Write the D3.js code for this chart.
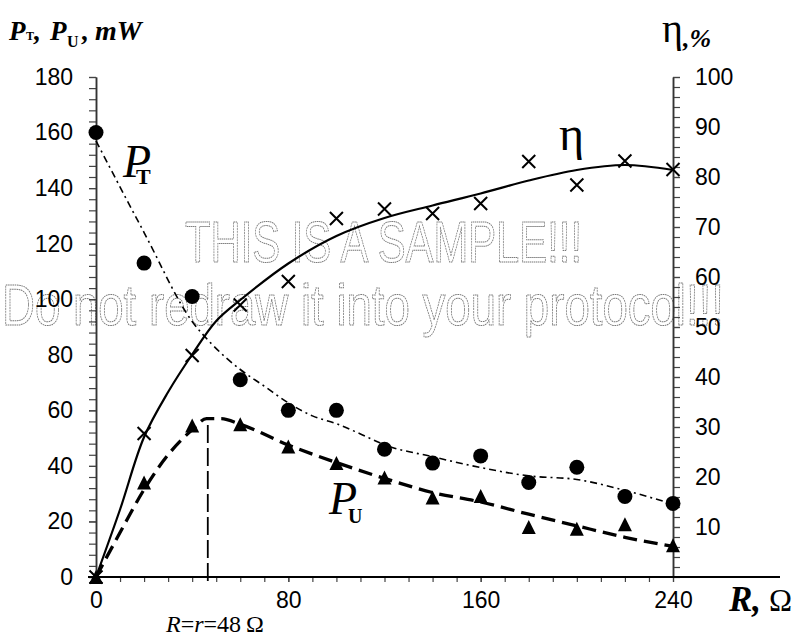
<!DOCTYPE html>
<html>
<head>
<meta charset="utf-8">
<script src="https://cdn.jsdelivr.net/npm/d3@7"></script>
<style>
  body { margin: 0; background: #fff; }
  svg { display: block; }
  .serif { font-family: "Liberation Serif", "Times New Roman", serif; }
</style>
</head>
<body>
<div id="chart"></div>
<script>
// measured points (R in ohm)
const resistance = [0, 20, 40, 60, 80, 100, 120, 140, 160, 180, 200, 220, 240];
const powerTotal = [160, 113, 101, 71, 60, 60, 46, 41, 43.6, 34, 39.5, 29, 26.5];
const powerUseful = [0, 34, 54.5, 55, 47, 41, 35.8, 28.6, 29.2, 18, 17.4, 19, 11.4];
const efficiency = [0, 28.7, 44.3, 54.4, 59.1, 71.7, 73.6, 72.7, 74.7, 83.1, 78.4, 83.2, 81.5];

// fitted curves
const fitTotalR = [0, 20, 40, 48, 60, 70, 80, 90, 100, 110, 120, 140, 160, 180, 200, 220, 240];
const fitTotal = [157, 124, 92, 84, 74.7, 68.7, 62.7, 58, 55.2, 51.5, 47.6, 43.3, 39.4, 36.4, 35.1, 31.2, 26.2];
const fitUsefulR = [0, 10, 20, 30, 40, 46, 52, 60, 80, 100, 120, 140, 160, 180, 200, 220, 240];
const fitUseful = [0, 16, 31.5, 44, 53, 57, 57, 55, 47.5, 41.2, 35.5, 30.4, 27, 22.6, 18.4, 14.3, 11];
const fitEtaR = [0, 10, 20, 30, 40, 50, 60, 80, 100, 120, 140, 160, 180, 200, 220, 240];
const fitEta = [0, 13.5, 28, 37, 44.5, 51.2, 55.4, 62.7, 68.2, 71.8, 74.3, 76.7, 79.3, 81.4, 82.4, 81.4];

const matchedR = 46.5;
const powerTicks = d3.range(0, 181, 20);
const etaTicks = d3.range(10, 101, 10);
const rTicks = [0, 80, 160, 240];

class PowerChart {
    constructor(){
        this.size = { width: 801, height: 636 };
        this.x = d3.scaleLinear().domain([0, 240]).range([96, 673]);
        this.yP = d3.scaleLinear().domain([0, 180]).range([577, 77]);
        this.yEta = d3.scaleLinear().domain([0, 100]).range([577, 77]);

        this.svg = d3.select('#chart').append('svg')
            .attr('width', this.size.width)
            .attr('height', this.size.height)
            .style('background', '#fff');

        this.drawWatermark();
        this.drawAxes();
        this.drawCurves();
        this.drawMarkers();
        this.drawText();
    }

    drawWatermark(){
        let g = this.svg.append('g')
            .attr('fill', 'none')
            .attr('stroke', '#7a7a7a')
            .attr('stroke-width', 1)
            .attr('stroke-dasharray', '2,0.8')
            .style('font-family', '"Liberation Sans", Arial, sans-serif')
            .style('font-size', '58px');
        g.append('text').attr('x', 185).attr('y', 262)
            .attr('textLength', 397).attr('lengthAdjust', 'spacingAndGlyphs')
            .text('THIS IS A SAMPLE!!!');
        g.append('text').attr('x', 2).attr('y', 325)
            .attr('textLength', 722).attr('lengthAdjust', 'spacingAndGlyphs')
            .text('Do not redraw it into your protocol!!!');
    }

    styleAxis(g){
        g.selectAll('.tick line').attr('stroke', '#444').attr('stroke-width', 1.2);
        g.selectAll('.tick text')
            .style('font-family', '"Liberation Sans", Arial, sans-serif')
            .style('font-size', '23px')
            .attr('fill', '#000');
        g.select('.domain').attr('stroke', '#333').attr('stroke-width', 1.5);
    }

    drawAxes(){
        let x = this.x, yP = this.yP, yEta = this.yEta;

        // left
        this.svg.append('g').attr('transform', 'translate(96,0)')
            .call(d3.axisLeft(yP).tickValues(d3.range(0, 181, 4)).tickSize(7).tickSizeOuter(0).tickFormat(''))
            .call(g => this.styleAxis(g));
        this.svg.append('g').attr('transform', 'translate(96,0)')
            .call(d3.axisLeft(yP).tickValues(powerTicks).tickSize(7).tickSizeOuter(0).tickPadding(16))
            .call(g => this.styleAxis(g));

        // right
        this.svg.append('g').attr('transform', 'translate(673,0)')
            .call(d3.axisRight(yEta).tickValues(d3.range(0, 101, 2)).tickSize(7).tickSizeOuter(0).tickFormat(''))
            .call(g => this.styleAxis(g));
        this.svg.append('g').attr('transform', 'translate(673,0)')
            .call(d3.axisRight(yEta).tickValues(etaTicks).tickSize(7).tickSizeOuter(0).tickPadding(15))
            .call(g => this.styleAxis(g));

        // bottom
        let bottom = this.svg.append('g').attr('transform', 'translate(0,577)');
        bottom.append('g')
            .call(d3.axisBottom(x).tickValues(d3.range(0, 241, 10)).tickSize(5).tickSizeOuter(0).tickFormat(''))
            .call(g => this.styleAxis(g))
            .call(g => g.select('.domain').remove());
        bottom.append('g')
            .call(d3.axisBottom(x).tickValues(rTicks).tickSize(5).tickSizeOuter(0).tickPadding(10))
            .call(g => this.styleAxis(g))
            .call(g => g.select('.domain').remove());
        bottom.append('line')
            .attr('x1', x(0) - 8).attr('x2', 780)
            .attr('stroke', '#000').attr('stroke-width', 2);
    }

    drawCurves(){
        let x = this.x, yP = this.yP, yEta = this.yEta;

        let lineP = d3.line().x(d => x(d[0])).y(d => yP(d[1])).curve(d3.curveMonotoneX);
        let lineEta = d3.line().x(d => x(d[0])).y(d => yEta(d[1])).curve(d3.curveCatmullRom.alpha(0.5));

        this.svg.append('path')
            .datum(d3.zip(fitTotalR, fitTotal))
            .attr('d', lineP)
            .attr('fill', 'none').attr('stroke', '#000')
            .attr('stroke-width', 1.6)
            .attr('stroke-dasharray', '7,4,2,4');

        this.svg.append('path')
            .datum(d3.zip(fitUsefulR, fitUseful))
            .attr('d', lineP)
            .attr('fill', 'none').attr('stroke', '#000')
            .attr('stroke-width', 3.3)
            .attr('stroke-dasharray', '14,7');

        this.svg.append('path')
            .datum(d3.zip(fitEtaR, fitEta))
            .attr('d', lineEta)
            .attr('fill', 'none').attr('stroke', '#000')
            .attr('stroke-width', 2.2);

        // R = r marker
        this.svg.append('line')
            .attr('x1', x(matchedR)).attr('x2', x(matchedR))
            .attr('y1', yP(0) + 4).attr('y2', yP(d3.max(fitUseful)))
            .attr('stroke', '#000').attr('stroke-width', 1.8)
            .attr('stroke-dasharray', '18,5');
    }

    drawMarkers(){
        let x = this.x, yP = this.yP, yEta = this.yEta;

        this.svg.append('g').selectAll('circle')
            .data(d3.zip(resistance, powerTotal))
            .join('circle')
            .attr('cx', d => x(d[0]))
            .attr('cy', d => yP(d[1]))
            .attr('r', 7.5)
            .attr('fill', '#000');

        // triangles a bit taller than equilateral
        let tri = { draw(ctx, size){ let h = Math.sqrt(size) / 2; ctx.moveTo(0, -h); ctx.lineTo(h, h); ctx.lineTo(-h, h); ctx.closePath(); } };
        this.svg.append('g').selectAll('path')
            .data(d3.zip(resistance, powerUseful))
            .join('path')
            .attr('transform', d => `translate(${x(d[0])},${yP(d[1])})`)
            .attr('d', d3.symbol(tri, 196))
            .attr('fill', '#000');

        this.svg.append('g').selectAll('path')
            .data(d3.zip(resistance, efficiency))
            .join('path')
            .attr('d', d => {
                let cx = x(d[0]), cy = yEta(d[1]), s = 6.5;
                return `M${cx - s},${cy - s}L${cx + s},${cy + s}M${cx + s},${cy - s}L${cx - s},${cy + s}`;
            })
            .attr('stroke', '#000').attr('stroke-width', 2).attr('fill', 'none');
    }

    drawText(){
        let svg = this.svg;

        let t1 = svg.append('text').attr('class', 'serif').attr('y', 40)
            .style('font-size', '27px').style('font-weight', 'bold');
        t1.append('tspan').attr('x', 9).style('font-style', 'italic').text('P');
        t1.append('tspan').attr('x', 26).style('font-size', '12px').text('T');
        t1.append('tspan').attr('x', 33).text(',');
        t1.append('tspan').attr('x', 50).style('font-style', 'italic').text('P');
        t1.append('tspan').attr('x', 67).attr('y', 47).style('font-size', '16px').text('U');
        t1.append('tspan').attr('x', 81).attr('y', 40).text(',');
        t1.append('tspan').attr('x', 95).style('font-style', 'italic').style('font-size', '28px').text('mW');

        let t2 = svg.append('text').attr('class', 'serif').attr('y', 42);
        t2.append('tspan').attr('x', 662).style('font-size', '40px').text('η');
        t2.append('tspan').attr('y', 47).style('font-size', '26px')
            .style('font-weight', 'bold').style('font-style', 'italic').text(',%');

        svg.append('text').attr('class', 'serif')
            .attr('x', 559).attr('y', 150)
            .style('font-size', '48px').text('η');

        let pt = svg.append('text').attr('class', 'serif').attr('y', 177);
        pt.append('tspan').attr('x', 123).style('font-size', '46px').style('font-style', 'italic').text('P');
        pt.append('tspan').attr('x', 136).attr('y', 184).style('font-size', '22px').style('font-weight', 'bold').text('T');

        let pu = svg.append('text').attr('class', 'serif').attr('y', 514);
        pu.append('tspan').attr('x', 329).style('font-size', '46px').style('font-style', 'italic').text('P');
        pu.append('tspan').attr('x', 348).attr('y', 523).style('font-size', '20px').style('font-weight', 'bold').text('U');

        let rl = svg.append('text').attr('class', 'serif').attr('x', 729).attr('y', 611);
        rl.append('tspan').style('font-size', '35px').style('font-weight', 'bold').style('font-style', 'italic').text('R,');
        rl.append('tspan').attr('x', 769).style('font-size', '31px').text('Ω');

        let rr = svg.append('text').attr('class', 'serif').attr('x', 166).attr('y', 632)
            .style('font-size', '24px');
        rr.append('tspan').style('font-style', 'italic').text('R');
        rr.append('tspan').text('=');
        rr.append('tspan').style('font-style', 'italic').text('r');
        rr.append('tspan').text('=48\u2009Ω');
    }
}

new PowerChart();
</script>
</body>
</html>
